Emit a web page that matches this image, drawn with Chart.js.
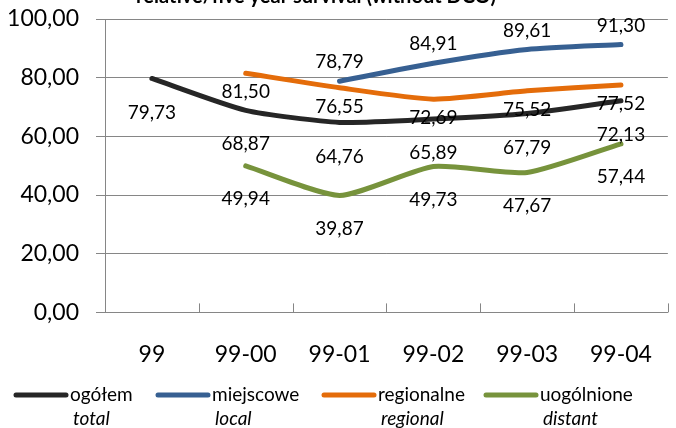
<!DOCTYPE html>
<html>
<head>
<meta charset="utf-8">
<script src="https://cdn.jsdelivr.net/npm/chart.js@4"></script>
<style>
  html, body { margin: 0; padding: 0; background: #fff; }
  #wrap { width: 676px; height: 428px; overflow: hidden; position: relative; }
  canvas { display: block; }
</style>
</head>
<body>
<div id="wrap"><canvas id="survival" width="680" height="428"></canvas></div>
<script>
const categories = ['99', '99-00', '99-01', '99-02', '99-03', '99-04'];
const totalValues = [79.73, 68.87, 64.76, 65.89, 67.79, 72.13];
const localValues = [null, null, 78.79, 84.91, 89.61, 91.30];
const regionalValues = [null, 81.50, 76.55, 72.69, 75.52, 77.52];
const distantValues = [null, 49.94, 39.87, 49.73, 47.67, 57.44];
const namesPl = ['ogółem', 'miejscowe', 'regionalne', 'uogólnione'];
const namesEn = ['total', 'local', 'regional', 'distant'];
const yMin = 0, yMax = 100, yStep = 20;
const titleText = 'relative/five year survival (without DCO)';

const colors = ['#262626', '#376092', '#E46C0A', '#77933C'];
// where each series puts its value labels (px from the point)
const labelOffsets = [34, -19, 19, 33];
const legendX = [13, 155, 321, 483];
const fontFamily = 'Lato, "Open Sans", sans-serif';

const fmt = v => v.toFixed(2).replace('.', ',');

const valueLabels = {
    id: 'valueLabels',
    afterDatasetsDraw(chart) {
        const c = chart.ctx;
        c.save();
        c.font = '19px ' + fontFamily;
        c.fillStyle = '#000';
        c.textAlign = 'center';
        c.textBaseline = 'middle';
        chart.data.datasets.forEach((ds, i) => {
            const meta = chart.getDatasetMeta(i);
            meta.data.forEach((pt, j) => {
                if (ds.data[j] == null) return;
                c.fillText(fmt(ds.data[j]), pt.x, pt.y + labelOffsets[i]);
            });
        });
        c.restore();
    }
};

const extras = {
    id: 'extras',
    beforeDatasetsDraw(chart) {
        // small inside tick marks between categories on the x axis
        const a = chart.chartArea;
        const c = chart.ctx;
        const n = categories.length;
        c.save();
        c.strokeStyle = '#868686';
        c.lineWidth = 1;
        c.beginPath();
        for (let i = 0; i <= n; i++) {
            const x = Math.round(a.left + i * (a.right - a.left) / n) + 0.5;
            c.moveTo(x, a.bottom);
            c.lineTo(x, a.bottom - 9);
        }
        c.stroke();
        c.restore();
    },
    afterDraw(chart) {
        const c = chart.ctx;
        c.save();
        // title (mostly cut off at the top edge)
        c.font = 'bold 20px ' + fontFamily;
        c.fillStyle = '#000';
        c.textAlign = 'center';
        c.textBaseline = 'alphabetic';
        c.fillText(titleText, 316, 3);

        // two-line legend under the chart
        c.textAlign = 'left';
        c.textBaseline = 'middle';
        chart.data.datasets.forEach((ds, i) => {
            const x = legendX[i];
            c.strokeStyle = ds.borderColor;
            c.lineWidth = 5;
            c.lineCap = 'round';
            c.beginPath();
            c.moveTo(x + 3, 395);
            c.lineTo(x + 53, 395);
            c.stroke();
            c.font = '19px ' + fontFamily;
            c.fillText(namesPl[i], x + 57, 395);
            c.font = 'italic 19px ' + fontFamily;
            c.fillText(namesEn[i], x + 60, 419);
        });
        c.restore();
    }
};

const seriesValues = [totalValues, localValues, regionalValues, distantValues];

const ctx = document.getElementById('survival').getContext('2d');
const survival = new Chart(ctx, {
    type: 'line',
    data: {
        labels: categories,
        datasets: seriesValues.map((vals, i) => ({
            label: namesPl[i] + ' ' + namesEn[i],
            data: vals,
            borderColor: colors[i],
            backgroundColor: colors[i],
            borderWidth: 5,
            borderCapStyle: 'round',
            borderJoinStyle: 'round',
            pointRadius: 0,
            tension: 0.2,
            spanGaps: false
        }))
    },
    options: {
        responsive: false,
        animation: false,
        devicePixelRatio: 1,
        layout: { padding: { top: 19, right: 1, bottom: 32, left: 0 } },
        plugins: {
            legend: { display: false },
            title: { display: false },
            tooltip: { enabled: false }
        },
        scales: {
            x: {
                offset: true,
                grid: { display: false, drawTicks: false },
                border: { display: true, color: '#868686', width: 1 },
                ticks: {
                    color: '#000',
                    padding: 28,
                    maxRotation: 0,
                    font: { family: fontFamily, size: 23 }
                }
            },
            y: {
                min: yMin,
                max: yMax,
                afterFit(scale) {
                    scale.width = 105;
                    scale.paddingTop = 0;
                    scale.paddingBottom = 0;
                },
                grid: { color: '#868686', lineWidth: 1, tickLength: 9, drawTicks: true },
                border: { display: true, color: '#868686', width: 1 },
                ticks: {
                    stepSize: yStep,
                    color: '#000',
                    padding: 17,
                    font: { family: fontFamily, size: 23 },
                    callback: v => fmt(v)
                }
            }
        }
    },
    plugins: [valueLabels, extras]
});
</script>
</body>
</html>
